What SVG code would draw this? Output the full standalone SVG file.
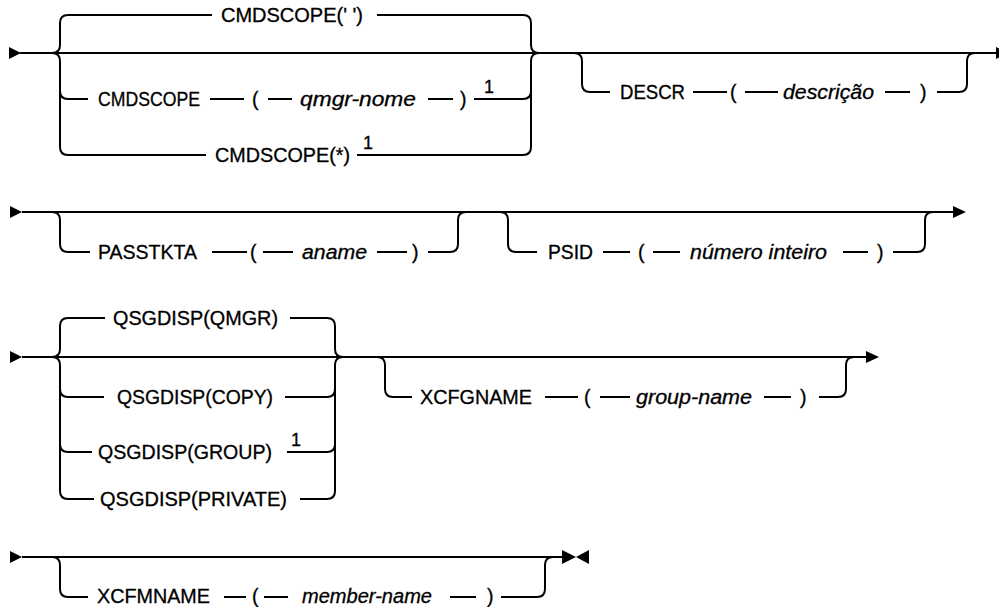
<svg xmlns="http://www.w3.org/2000/svg" width="999" height="607" viewBox="0 0 999 607">
<style>
.c{fill:none;stroke:#000;stroke-width:2}
.t{font-family:"Liberation Sans",Arial,sans-serif;font-size:19.5px;fill:#000;stroke:#000;stroke-width:0.3}
.i{font-style:italic}
.n{font-family:"Liberation Sans",Arial,sans-serif;font-size:18px;fill:#000;stroke:#000;stroke-width:0.3}
.a{fill:#000}
</style>
<rect width="999" height="607" fill="#fff"/>
<g id="connectors">
<polygon class="a" points="9,47 21,53 9,59"/>
<path class="c" d="M20,53 H997"/>
<polygon class="a" points="996,47 1008,53 996,59"/>
<path class="c" d="M52,53 Q60,53 60,45 V23 Q60,15 68,15 H212 M377,15 H523 Q531,15 531,23 V45 Q531,53 539,53"/>
<path class="c" d="M52,53 Q60,53 60,61 V147 Q60,155 68,155 H206 M357,155 H523 Q531,155 531,147 V61 Q531,53 539,53"/>
<path class="c" d="M60,91 Q60,99 68,99 H88 M210,99 H244 M268,99 H292 M428,99 H453 M474,99 H523 Q531,99 531,91"/>
<path class="c" d="M574,53 Q582,53 582,61 V84 Q582,92 590,92 H610 M693,92 H727 M745,92 H778 M885,92 H910 M937,92 H959 Q967,92 967,84 V61 Q967,53 975,53"/>
<polygon class="a" points="10,206 22,212 10,218"/>
<path class="c" d="M22,212 H954"/>
<polygon class="a" points="953,206 966,212 953,218"/>
<path class="c" d="M52,212 Q60,212 60,220 V244 Q60,252 68,252 H90 M212,252 H247 M263,252 H293 M377,252 H407 M428,252 H450 Q458,252 458,244 V220 Q458,212 466,212"/>
<path class="c" d="M500,212 Q508,212 508,220 V244 Q508,252 516,252 H537 M603,252 H630 M653,252 H680 M843,252 H868 M893,252 H917 Q925,252 925,244 V220 Q925,212 933,212"/>
<polygon class="a" points="10,351 22,357 10,363"/>
<path class="c" d="M22,357 H867"/>
<polygon class="a" points="866,351 879,357 866,363"/>
<path class="c" d="M52,357 Q60,357 60,349 V326 Q60,318 68,318 H105 M290,318 H327 Q335,318 335,326 V349 Q335,357 343,357"/>
<path class="c" d="M52,357 Q60,357 60,365 V491 Q60,499 68,499 H94 M300,499 H327 Q335,499 335,491 V365 Q335,357 343,357"/>
<path class="c" d="M60,389 Q60,397 68,397 H104 M285,397 H327 Q335,397 335,389"/>
<path class="c" d="M60,444 Q60,452 68,452 H92 M287,452 H327 Q335,452 335,444"/>
<path class="c" d="M377,357 Q385,357 385,365 V389 Q385,397 393,397 H412 M545,397 H578 M600,397 H630 M764,397 H791 M819,397 H838 Q846,397 846,389 V365 Q846,357 854,357"/>
<polygon class="a" points="10,551 22,557 10,563"/>
<path class="c" d="M22,557 H563"/>
<polygon class="a" points="562,550 576,557 562,564"/>
<polygon class="a" points="589,550 576,557 589,564"/>
<path class="c" d="M52,557 Q60,557 60,565 V589 Q60,597 68,597 H88 M224,597 H246 M264,597 H288 M450,597 H476 M501,597 H537 Q545,597 545,589 V565 Q545,557 553,557"/>
</g>
<g id="cmdscope-blank"><text class="t" x="221" y="22" textLength="142" lengthAdjust="spacingAndGlyphs">CMDSCOPE(' ')</text></g>
<g id="cmdscope-qmgr">
<text class="t" x="98" y="106" textLength="102" lengthAdjust="spacingAndGlyphs">CMDSCOPE</text>
<text class="t" x="252" y="106">(</text>
<text class="t i" x="300" y="106" textLength="116" lengthAdjust="spacingAndGlyphs">qmgr-nome</text>
<text class="t" x="460" y="106">)</text>
<text class="n" x="484" y="93">1</text>
</g>
<g id="cmdscope-star">
<text class="t" x="215" y="162" textLength="135" lengthAdjust="spacingAndGlyphs">CMDSCOPE(*)</text>
<text class="n" x="363" y="149">1</text>
</g>
<g id="descr">
<text class="t" x="620" y="99" textLength="65" lengthAdjust="spacingAndGlyphs">DESCR</text>
<text class="t" x="730" y="99">(</text>
<text class="t i" x="783" y="99" textLength="91" lengthAdjust="spacingAndGlyphs">descrição</text>
<text class="t" x="920" y="99">)</text>
</g>
<g id="passtkta">
<text class="t" x="98" y="259" textLength="99" lengthAdjust="spacingAndGlyphs">PASSTKTA</text>
<text class="t" x="250" y="259">(</text>
<text class="t i" x="302" y="259" textLength="65" lengthAdjust="spacingAndGlyphs">aname</text>
<text class="t" x="412" y="259">)</text>
</g>
<g id="psid">
<text class="t" x="548" y="259" textLength="45" lengthAdjust="spacingAndGlyphs">PSID</text>
<text class="t" x="638" y="259">(</text>
<text class="t i" x="690" y="259" textLength="137" lengthAdjust="spacingAndGlyphs">número inteiro</text>
<text class="t" x="877" y="259">)</text>
</g>
<g id="qsgdisp-qmgr"><text class="t" x="113" y="325" textLength="165" lengthAdjust="spacingAndGlyphs">QSGDISP(QMGR)</text></g>
<g id="qsgdisp-copy"><text class="t" x="117" y="404" textLength="156" lengthAdjust="spacingAndGlyphs">QSGDISP(COPY)</text></g>
<g id="qsgdisp-group">
<text class="t" x="98" y="459" textLength="174" lengthAdjust="spacingAndGlyphs">QSGDISP(GROUP)</text>
<text class="n" x="291" y="446">1</text>
</g>
<g id="qsgdisp-private"><text class="t" x="100" y="506" textLength="187" lengthAdjust="spacingAndGlyphs">QSGDISP(PRIVATE)</text></g>
<g id="xcfgname">
<text class="t" x="420" y="404" textLength="112" lengthAdjust="spacingAndGlyphs">XCFGNAME</text>
<text class="t" x="584" y="404">(</text>
<text class="t i" x="636" y="404" textLength="116" lengthAdjust="spacingAndGlyphs">group-name</text>
<text class="t" x="800" y="404">)</text>
</g>
<g id="xcfmname">
<text class="t" x="97" y="603" textLength="113" lengthAdjust="spacingAndGlyphs">XCFMNAME</text>
<text class="t" x="252" y="603">(</text>
<text class="t i" x="302" y="603" textLength="130" lengthAdjust="spacingAndGlyphs">member-name</text>
<text class="t" x="487" y="603">)</text>
</g>
</svg>
